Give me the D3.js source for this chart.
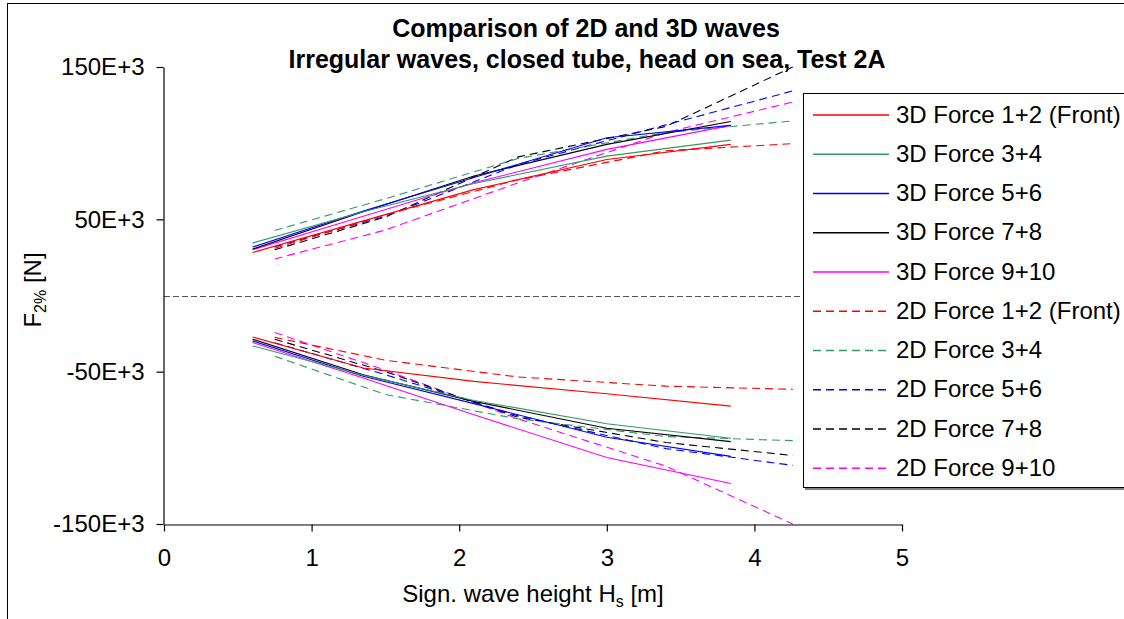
<!DOCTYPE html>
<html>
<head>
<meta charset="utf-8">
<script src="https://cdn.jsdelivr.net/npm/d3@7"></script>
<style>
  html, body { margin: 0; padding: 0; background: #fff; }
  svg { display: block; font-family: "Liberation Sans", Arial, sans-serif; }
</style>
</head>
<body>
<svg id="chart" width="1124" height="619"></svg>
<script>
// Significant wave height samples [m]
const hs3D = [0.6, 1.35, 2.1, 3.0, 3.84];
const hs2D = [0.75, 1.5, 2.4, 3.4, 4.26];

// Series names (legend order)
const seriesNames = [
  "3D Force 1+2 (Front)", "3D Force 3+4", "3D Force 5+6", "3D Force 7+8", "3D Force 9+10",
  "2D Force 1+2 (Front)", "2D Force 3+4", "2D Force 5+6", "2D Force 7+8", "2D Force 9+10"
];
const seriesColors = ["#ff0000", "#339966", "#0000ff", "#000000", "#ff00ff",
                      "#ff0000", "#339966", "#0000ff", "#000000", "#ff00ff"];

// F2% maxima and minima [N], 3D model
const f12Max3D = [28200, 49000, 69500, 89300, 99200];
const f12Min3D = [-27200, -47600, -56400, -64500, -72600];
const f34Max3D = [34400, 55000, 73500, 91500, 102000];
const f34Min3D = [-33100, -52400, -68900, -84200, -93700];
const f56Max3D = [31800, 55500, 77500, 103600, 111700];
const f56Min3D = [-29800, -53000, -71000, -93000, -105600];
const f78Max3D = [30500, 55000, 78500, 99200, 114200];
const f78Min3D = [-28700, -52000, -69500, -87100, -95900];
const f910Max3D = [30000, 52000, 74000, 95900, 111700];
const f910Min3D = [-30900, -54200, -78300, -106300, -123400];

// F2% maxima and minima [N], 2D model
const f12Max2D = [31000, 53000, 76000, 95000, 99700];
const f12Min2D = [-27500, -42500, -53500, -59500, -61600];
const f34Max2D = [42700, 63500, 90000, 107000, 114600];
const f34Min2D = [-39900, -65000, -81000, -92600, -95300];
const f56Max2D = [32000, 52000, 86000, 112000, 134300];
const f56Min2D = [-31000, -52000, -79000, -100500, -111500];
const f78Max2D = [30000, 51500, 91000, 111000, 150000];
const f78Min2D = [-28700, -50000, -80000, -96500, -105000];
const f910Max2D = [24000, 43000, 74000, 107000, 127000];
const f910Min2D = [-24300, -49000, -81000, -112000, -150000];

// Axis ticks
const xTicks = [0, 1, 2, 3, 4, 5];
const yTicks = [-150000, -50000, 50000, 150000];
const yTickLabels = ["-150E+3", "-50E+3", "50E+3", "150E+3"];

const svg = d3.select("#chart");
const x = d3.scaleLinear().domain([0, 5]).range([164, 902]);
const y = d3.scaleLinear().domain([-150000, 150000]).range([524, 67]);

// chart frame
svg.append("rect")
  .attr("x", 7.5).attr("y", 3.5).attr("width", 1300).attr("height", 800)
  .attr("fill", "none").attr("stroke", "#000").attr("stroke-width", 1);

// title
const title = svg.append("text")
  .attr("text-anchor", "middle").attr("font-weight", "bold").attr("font-size", 25);
title.append("tspan").attr("x", 586).attr("y", 37).text("Comparison of 2D and 3D waves");
title.append("tspan").attr("x", 587).attr("y", 68).text("Irregular waves, closed tube, head on sea, Test 2A");

// zero reference line
svg.append("line")
  .attr("x1", x(0)).attr("x2", x(5))
  .attr("y1", Math.round(y(0)) + 0.5).attr("y2", Math.round(y(0)) + 0.5)
  .attr("stroke", "#555").attr("stroke-width", 1).attr("stroke-dasharray", "6,3");

// series
const series = [
  { hs: hs3D, max: f12Max3D, min: f12Min3D },
  { hs: hs3D, max: f34Max3D, min: f34Min3D },
  { hs: hs3D, max: f56Max3D, min: f56Min3D },
  { hs: hs3D, max: f78Max3D, min: f78Min3D },
  { hs: hs3D, max: f910Max3D, min: f910Min3D },
  { hs: hs2D, max: f12Max2D, min: f12Min2D },
  { hs: hs2D, max: f34Max2D, min: f34Min2D },
  { hs: hs2D, max: f56Max2D, min: f56Min2D },
  { hs: hs2D, max: f78Max2D, min: f78Min2D },
  { hs: hs2D, max: f910Max2D, min: f910Min2D }
].map((s, i) => ({ ...s, name: seriesNames[i], color: seriesColors[i], dashed: i >= 5 }));

const line = d3.line().x(d => x(d[0])).y(d => y(d[1]));
const plot = svg.append("g");
// 2D series go underneath, 3D solid lines on top
[...series].reverse().forEach(s => {
  ["max", "min"].forEach(k => {
    plot.append("path")
      .datum(s.hs.map((h, j) => [h, s[k][j]]))
      .attr("d", line)
      .attr("fill", "none")
      .attr("stroke", s.color)
      .attr("stroke-width", 1.1)
      .attr("stroke-dasharray", s.dashed ? "8,5" : null);
  });
});

// axes
const yAxis = svg.append("g")
  .attr("transform", `translate(${x(0) - 0.5},0)`)
  .call(d3.axisLeft(y).tickValues(yTicks).tickFormat((d, i) => yTickLabels[i])
    .tickSize(7).tickSizeOuter(0).tickPadding(12));
const xAxis = svg.append("g")
  .attr("transform", `translate(0,${y(-150000) + 0.5})`)
  .call(d3.axisBottom(x).tickValues(xTicks).tickFormat(d3.format("d"))
    .tickSize(7).tickSizeOuter(0).tickPadding(17));
[yAxis, xAxis].forEach(g => {
  g.selectAll("text").attr("font-size", 24).attr("font-family", "Liberation Sans, Arial, sans-serif").attr("fill", "#000");
  g.selectAll("line,path").attr("stroke", "#000").attr("stroke-width", 1.2);
});

// axis titles
const xt = svg.append("text")
  .attr("x", 533).attr("y", 602).attr("text-anchor", "middle").attr("font-size", 24);
xt.append("tspan").text("Sign. wave height H");
xt.append("tspan").attr("font-size", 16).attr("dy", 5).text("s");
xt.append("tspan").attr("dy", -5).text(" [m]");

const yt = svg.append("text")
  .attr("transform", "translate(41,290) rotate(-90)")
  .attr("text-anchor", "middle").attr("font-size", 24);
yt.append("tspan").text("F");
yt.append("tspan").attr("font-size", 16).attr("dy", 5).text("2%");
yt.append("tspan").attr("dy", -5).text(" [N]");

// legend
const legend = svg.append("g");
legend.append("rect")
  .attr("x", 805).attr("y", 95).attr("width", 400).attr("height", 395)
  .attr("fill", "#808080");
legend.append("rect")
  .attr("x", 803.5).attr("y", 93.5).attr("width", 400).attr("height", 394)
  .attr("fill", "#fff").attr("stroke", "#000").attr("stroke-width", 1);
series.forEach((s, i) => {
  const ry = 115 + i * 39.25;
  legend.append("line")
    .attr("x1", 813).attr("x2", 889).attr("y1", ry).attr("y2", ry)
    .attr("stroke", s.color).attr("stroke-width", 1.4)
    .attr("stroke-dasharray", s.dashed ? "8,5" : null);
  legend.append("text")
    .attr("x", 896).attr("y", ry + 7.5).attr("font-size", 24).text(s.name);
});
</script>
</body>
</html>
